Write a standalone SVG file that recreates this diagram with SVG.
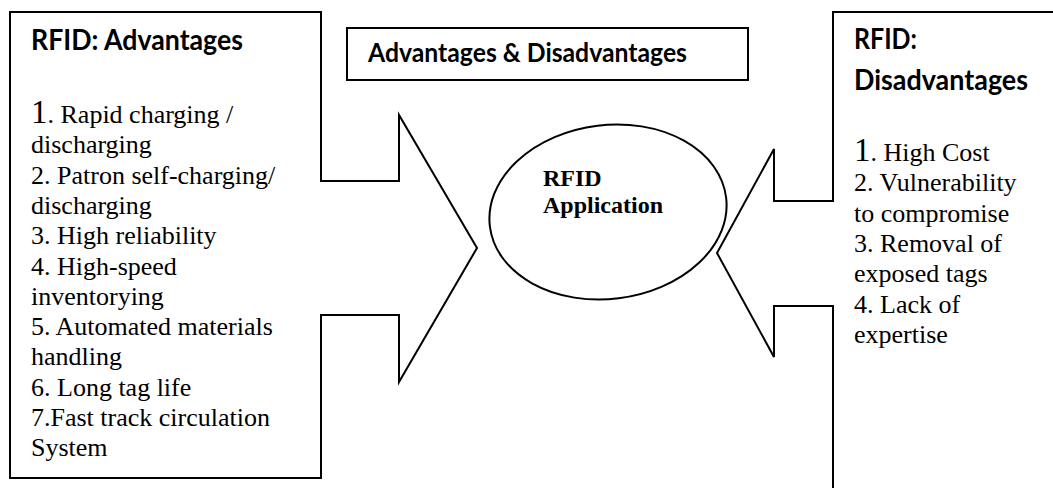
<svg xmlns="http://www.w3.org/2000/svg" width="1053" height="488" viewBox="0 0 1053 488">
<style>
.shape{fill:#fff;stroke:#000;stroke-width:2;stroke-linejoin:miter}
.line{fill:none;stroke:#000;stroke-width:2}
.hd{font-family:Lato,"Open Sans","Liberation Sans",sans-serif;font-weight:bold;fill:#000}
.tx{font-family:"Liberation Serif","Times New Roman",serif;font-size:26px;fill:#000}
.big{font-size:33px}
.ct{font-family:"Liberation Serif","Times New Roman",serif;font-size:24px;font-weight:bold;fill:#000}
</style>
<rect width="1053" height="488" fill="#fff"/>
<g id="connectors"></g>
<g id="node-advantages">
<polygon class="shape" points="10,12 321,12 321,181 399,181 399,115 477,248 399,382 399,315 321,315 321,478 10,478"/>
<text class="hd" x="31" y="50" font-size="29" textLength="212" lengthAdjust="spacingAndGlyphs">RFID: Advantages</text>
<text class="tx" x="31" y="123"><tspan class="big">1</tspan>. Rapid charging /</text>
<text class="tx" x="31" y="153.3">discharging</text>
<text class="tx" x="31" y="183.6">2. Patron self-charging/</text>
<text class="tx" x="31" y="213.9">discharging</text>
<text class="tx" x="31" y="244.2">3. High reliability</text>
<text class="tx" x="31" y="274.5">4. High-speed</text>
<text class="tx" x="31" y="304.8">inventorying</text>
<text class="tx" x="31" y="335.1">5. Automated materials</text>
<text class="tx" x="31" y="365.4">handling</text>
<text class="tx" x="31" y="395.7">6. Long tag life</text>
<text class="tx" x="31" y="426">7.Fast track circulation</text>
<text class="tx" x="31" y="456.3">System</text>
</g>
<g id="node-title">
<rect class="shape" x="347" y="28" width="401" height="52"/>
<text class="hd" x="368" y="62" font-size="26" textLength="319" lengthAdjust="spacingAndGlyphs">Advantages &amp; Disadvantages</text>
</g>
<g id="node-center">
<ellipse class="shape" cx="608" cy="212" rx="119" ry="87" transform="rotate(-7 608 212)"/>
<text class="ct" x="543" y="186">RFID</text>
<text class="ct" x="543" y="213">Application</text>
</g>
<g id="node-disadvantages">
<polyline class="line" points="1054,12 833,12 833,201 774,201 774,149 717,253 774,357 774,306 833,306 833,490"/>
<text class="hd" x="854" y="49" font-size="29" textLength="63" lengthAdjust="spacingAndGlyphs">RFID:</text>
<text class="hd" x="854" y="90" font-size="29" textLength="174" lengthAdjust="spacingAndGlyphs">Disadvantages</text>
<text class="tx" x="854" y="161"><tspan class="big">1</tspan>. High Cost</text>
<text class="tx" x="854" y="191.3">2. Vulnerability</text>
<text class="tx" x="854" y="221.6">to compromise</text>
<text class="tx" x="854" y="251.9">3. Removal of</text>
<text class="tx" x="854" y="282.2">exposed tags</text>
<text class="tx" x="854" y="312.5">4. Lack of</text>
<text class="tx" x="854" y="342.8">expertise</text>
</g>
</svg>
